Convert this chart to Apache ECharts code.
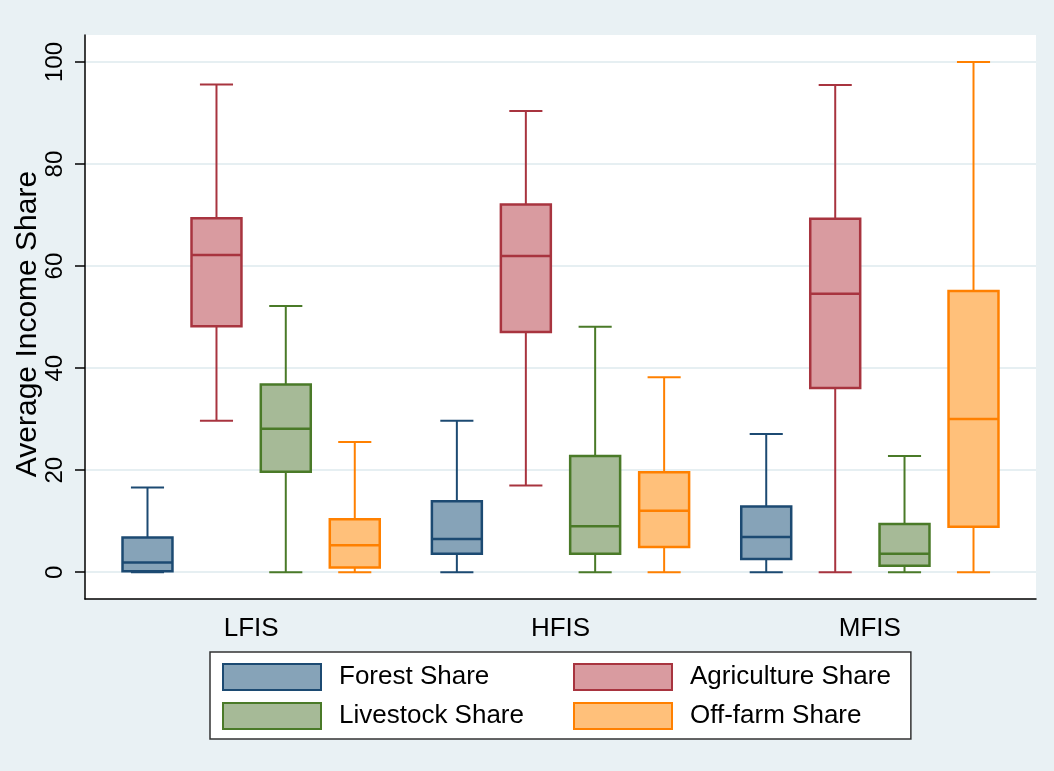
<!DOCTYPE html>
<html>
<head>
<meta charset="utf-8">
<script src="https://cdn.jsdelivr.net/npm/echarts@6/dist/echarts.min.js"></script>
<style>
html,body{margin:0;padding:0;background:#e9f1f4;}
#chart{width:1054px;height:771px;}
</style>
</head>
<body>
<div id="chart"></div>
<script>
// ---- data: [min, q1, median, q3, max] per category ----
const categories = ['LFIS', 'HFIS', 'MFIS'];
const seriesNames = ['Forest Share', 'Agriculture Share', 'Livestock Share', 'Off-farm Share'];
const forestShare = [[0, 0.2, 1.9, 6.8, 16.6], [0, 3.6, 6.5, 13.9, 29.7], [0, 2.6, 6.9, 12.9, 27.1]];
const agricultureShare = [[29.7, 48.2, 62.2, 69.4, 95.6], [17.0, 47.1, 62.0, 72.1, 90.4], [0, 36.1, 54.6, 69.3, 95.5]];
const livestockShare = [[0, 19.7, 28.1, 36.8, 52.2], [0, 3.6, 9.0, 22.8, 48.1], [0, 1.25, 3.6, 9.45, 22.8]];
const offfarmShare = [[0, 0.9, 5.3, 10.4, 25.5], [0, 4.95, 12.05, 19.6, 38.2], [0, 8.9, 30.05, 55.1, 100]];
const yTicks = [0, 20, 40, 60, 80, 100];

// ---- styling / layout ----
const allData = [forestShare, agricultureShare, livestockShare, offfarmShare];
const fills = ['#86a3b8', '#d99ba0', '#a6ba97', '#ffc07a'];
const strokes = ['#1c4a72', '#a8343f', '#4a7a28', '#ff8000'];
const offsets = [-0.335, -0.112, 0.112, 0.335];
const BOX_W = 0.1615, CAP_W = 0.107;
const FONT = '"Liberation Sans", Arial, Helvetica, sans-serif';

function makeRender(si) {
  return function (params, api) {
    const c = api.value(0) + offsets[si];
    const unit = api.size([1, 0])[0];
    const hb = BOX_W * unit / 2, hc = CAP_W * unit / 2;
    const pMin = api.coord([c, api.value(1)]);
    const pQ1 = api.coord([c, api.value(2)]);
    const pMed = api.coord([c, api.value(3)]);
    const pQ3 = api.coord([c, api.value(4)]);
    const pMax = api.coord([c, api.value(5)]);
    const x = pMin[0];
    const ls = { stroke: strokes[si], lineWidth: 2 };
    return {
      type: 'group',
      children: [
        { type: 'line', shape: { x1: x, y1: pQ3[1], x2: x, y2: pMax[1] }, style: ls },
        { type: 'line', shape: { x1: x, y1: pQ1[1], x2: x, y2: pMin[1] }, style: ls },
        { type: 'line', shape: { x1: x - hc, y1: pMax[1], x2: x + hc, y2: pMax[1] }, style: ls },
        { type: 'line', shape: { x1: x - hc, y1: pMin[1], x2: x + hc, y2: pMin[1] }, style: ls },
        { type: 'rect', shape: { x: x - hb, y: pQ3[1], width: 2 * hb, height: pQ1[1] - pQ3[1] },
          style: { fill: fills[si], stroke: strokes[si], lineWidth: 2.5 } },
        { type: 'line', shape: { x1: x - hb, y1: pMed[1], x2: x + hb, y2: pMed[1] }, style: { stroke: strokes[si], lineWidth: 2.5 } }
      ]
    };
  };
}

const series = allData.map((d, si) => ({
  type: 'custom',
  name: seriesNames[si],
  itemStyle: { color: fills[si], borderColor: strokes[si] },
  encode: { x: 0, y: [1, 2, 3, 4, 5] },
  data: d.map((v, ci) => [ci].concat(v)),
  renderItem: makeRender(si),
  animation: false
}));

const chart = echarts.init(document.getElementById('chart'), null, { renderer: 'canvas' });
chart.setOption({
  backgroundColor: '#e9f1f4',
  animation: false,
  grid: { left: 85, right: 18, top: 35, bottom: 172, show: true, backgroundColor: '#ffffff', borderWidth: 0,
          containLabel: false, outerBoundsMode: 'none' },
  xAxis: {
    type: 'value', min: -0.537, max: 2.537,
    axisLine: { show: true, onZero: false, lineStyle: { color: '#000', width: 1.5 } },
    axisTick: { show: false },
    splitLine: { show: false },
    axisLabel: {
      customValues: [0, 1, 2],
      formatter: v => categories[Math.round(v)],
      fontSize: 26, color: '#000', fontFamily: FONT, margin: 17
    }
  },
  yAxis: {
    type: 'value', min: -5.25, max: 105.3,
    name: 'Average Income Share', nameLocation: 'middle', nameGap: 42, nameMoveOverlap: false,
    nameTextStyle: { fontSize: 30, color: '#000', fontFamily: FONT, padding: [0, 14, 0, 0] },
    axisLine: { show: true, onZero: false, lineStyle: { color: '#000', width: 1.5 } },
    axisTick: { show: true, customValues: yTicks, length: 10, lineStyle: { color: '#000', width: 1.5 } },
    splitLine: { show: true, lineStyle: { color: '#e6eff2', width: 2 } },
    axisLabel: {
      customValues: yTicks, rotate: 90, fontSize: 24, color: '#000', fontFamily: FONT, margin: 18
    }
  },
  legend: {
    left: 210, top: 652, width: 700,
    orient: 'horizontal',
    padding: [11, 20, 9, 12],
    backgroundColor: '#ffffff', borderColor: '#333333', borderWidth: 1.5,
    itemWidth: 98, itemHeight: 26, itemGap: 11,
    textStyle: { fontSize: 26, color: '#000', fontFamily: FONT, lineHeight: 26, padding: [0, 0, 0, 13], width: 223 },
    data: [
      { name: seriesNames[0], icon: 'rect', itemStyle: { color: fills[0], borderColor: strokes[0], borderWidth: 2 } },
      { name: seriesNames[1], icon: 'rect', itemStyle: { color: fills[1], borderColor: strokes[1], borderWidth: 2 }, textStyle: { width: 200 } },
      { name: seriesNames[2], icon: 'rect', itemStyle: { color: fills[2], borderColor: strokes[2], borderWidth: 2 } },
      { name: seriesNames[3], icon: 'rect', itemStyle: { color: fills[3], borderColor: strokes[3], borderWidth: 2 }, textStyle: { width: 200 } }
    ],
    selectedMode: false
  },
  series: series
});
</script>
</body>
</html>
